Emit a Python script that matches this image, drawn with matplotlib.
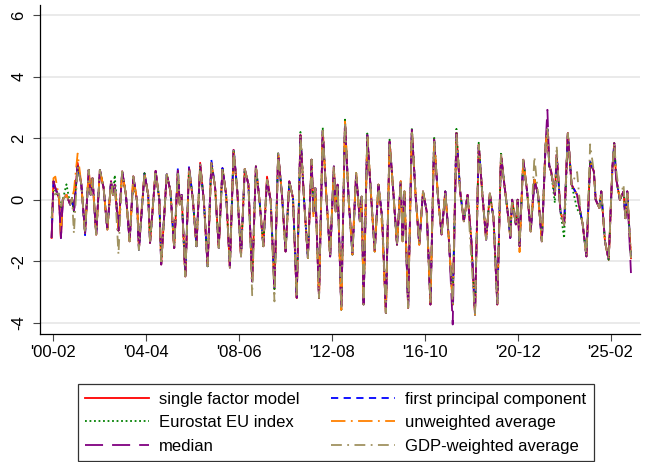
import matplotlib.pyplot as plt

plt.rcParams['font.family'] = ['Liberation Sans', 'DejaVu Sans']

# months since 2000-01 (vertices) and the common path of all series
months = [0, 1, 2, 4, 5, 6, 8, 10, 11, 12, 14, 16, 18, 20, 21, 22, 24, 26, 28,
          30, 32, 33, 34, 36, 38, 40, 42, 44, 46, 47, 50, 52, 53, 56, 58, 59, 62, 64, 66,
          68, 69, 70, 72, 74, 76, 78, 80, 82, 84, 86, 88, 90, 92, 94, 96, 98, 100, 102,
          104, 106, 108, 110, 112, 114, 116, 118, 120, 122, 124, 126, 128, 130, 132, 134, 136, 138, 140,
          141, 142, 144, 146, 148, 150, 152, 153, 154, 156, 158, 160, 162, 164, 166, 167, 168, 170, 172, 174,
          176, 178, 180, 182, 184, 186, 188, 189, 190, 192, 194, 196, 198, 200, 202, 204, 206, 208, 210, 212,
          214, 216, 218, 220, 222, 224, 226, 228, 230, 232, 234, 236, 238, 240, 242, 244, 246, 247, 248, 250,
          251, 252, 254, 256, 258, 260, 262, 264, 266, 267, 268, 269, 271, 272, 273, 274, 276, 278, 279,
          280, 283, 285, 286, 288, 290, 292, 293, 295, 296, 298, 300, 302, 303, 304, 306, 308, 309, 310, 312]
common = [-1.24, 0.6, 0.38, 0.05, -1.24, 0.0, 0.16, -0.16, 0.05, -0.38, 1.08, 0.5, -1.08, 0.97, 0.16, 0.7, -1.13, 0.97, 0.38,
          -0.97, 0.6, 0.16, 0.49, -1.0, 0.92, 0.16, -1.35, 0.76, -0.05, -1.62, 0.86, 0.16, -1.4, 0.94, 0.0, -2.1, 0.83, 0.27, -1.57,
          0.94, -0.16, 0.16, -2.49, 1.03, 0.05, -1.51, 1.14, -0.05, -2.16, 1.19, 0.43, -1.57, 1.03, 0.16, -2.2, 1.62, 0.27, -1.84,
          1.0, 0.49, -2.65, 1.08, -0.05, -1.51, 0.65, -0.05, -2.9, 1.5, 0.2, -1.68, 0.6, 0.05, -3.19, 2.1, -0.05, -1.89, 1.3,
          -0.38, 0.38, -3.19, 2.24, 0.05, -1.84, 1.08, -0.38, 0.49, -3.57, 2.54, -0.05, -1.78, 0.86, -0.7, 0.1, -3.4, 2.1, 0.16, -1.68,
          0.49, -0.6, -3.68, 1.89, 0.27, -1.46, 0.6, -1.35, 0.27, -3.51, 2.27, 0.16, -1.46, 0.27, -0.38, -3.4, 1.95, 0.16, -1.13, 0.27,
          -1.35, -3.4, 2.16, 0.27, -0.7, 0.16, -1.3, -3.73, 1.78, 0.16, -1.3, 0.2, -0.6, -3.4, 1.46, 0.4, -0.6, -1.24, 0.0, -0.8,
          0.0, -1.51, 1.3, 0.3, -1.03, 0.65, 0.16, -1.35, 1.78, 2.3, 1.1, 0.92, 0.16, 1.46, 0.6, -0.38, -0.81, 2.16, 1.35,
          0.49, 0.16, -0.49, -0.8, -1.84, 1.24, 0.92, 0.0, -0.27, 0.27, -1.35, -1.95, 1.03, 1.84, 0.7, 0.0, 0.27, -0.6, 0.27, -1.9]

# where a series visibly departs from the common path: {month: value}
single_factor = {14: 1.2, 80: 1.2, 116: 0.75, 162: -1.6}
first_pc = {18: -1.15, 68: 1.05, 74: 1.1, 86: 1.3, 98: 1.7, 146: 2.2}
eurostat = {0: -0.6, 1: 0.3, 2: 0.25, 5: -0.3, 8: 0.5, 34: 0.8, 38: 0.9, 44: 0.6, 134: 2.2, 146: 2.35,
            158: 2.6, 170: 2.15, 182: 1.95, 194: 2.35, 206: 2.05, 218: 2.3, 230: 1.85, 242: 1.55,
            271: -0.1, 276: -1.25, 283: -0.3}
unweighted = {1: 0.7, 2: 0.75, 12: 0.3, 14: 1.5, 47: -1.4, 141: -0.6, 178: -0.9, 252: -1.7}
median = {216: -4.05, 267: 2.92, 312: -2.38}
gdp_weighted = {0: -0.6, 1: 0.1, 2: 0.2, 4: 0.2, 5: -0.3, 12: -1.1, 36: -1.78, 108: -3.1, 120: -3.3,
                226: -1.9, 260: 1.4, 272: 1.75, 283: 0.9, 290: 1.8, 304: 1.0, 308: 0.5}

tick_pos = [1, 51, 101, 151, 201, 251, 301]
tick_labels = ["'00-02", "'04-04", "'08-06", "'12-08", "'16-10", "'20-12", "'25-02"]


def build(overrides):
    vals = list(common)
    for m, v in overrides.items():
        vals[months.index(m)] = v
    return vals


fig = plt.figure(figsize=(6.47, 4.62), dpi=100)
ax = fig.add_axes([0.062, 0.277, 0.927, 0.712])

styles = [
    ('single factor model', single_factor, '#ff0000', '-'),
    ('first principal component', first_pc, '#0000ff', (0, (4, 3))),
    ('Eurostat EU index', eurostat, '#008000', (0, (1, 1.5))),
    ('unweighted average', unweighted, '#ff8000', (0, (8, 3, 1, 3))),
    ('median', median, '#800080', (0, (10, 5))),
    ('GDP-weighted average', gdp_weighted, '#a09260', (0, (6, 3, 1, 3))),
]
handles = {}
for label, ov, color, ls in styles:
    h, = ax.plot(months, build(ov), color=color, linestyle=ls, lw=1.3, label=label)
    handles[label] = h

ax.set_xlim(-6.2, 316.8)
ax.set_ylim(-4.36, 6.32)
ax.set_yticks([-4, -2, 0, 2, 4, 6])
ax.set_yticklabels(['-4', '-2', '0', '2', '4', '6'], rotation=90, va='center')
ax.set_xticks(tick_pos)
ax.set_xticklabels(tick_labels)
ax.tick_params(labelsize=12, length=5, width=0.8, color='#444444')
ax.tick_params(axis='y', pad=5)
ax.tick_params(axis='x', pad=3)
ax.grid(axis='y', color='#eaeaea', lw=1.4)
ax.set_axisbelow(True)
for s in ['top', 'right']:
    ax.spines[s].set_visible(False)
for s in ['left', 'bottom']:
    ax.spines[s].set_linewidth(0.9)

order = ['single factor model', 'Eurostat EU index', 'median',
         'first principal component', 'unweighted average', 'GDP-weighted average']
leg = fig.legend([handles[k] for k in order], order, ncol=2, loc='upper left',
                 bbox_to_anchor=(0.1205, 0.168), borderaxespad=0, fontsize=12,
                 frameon=True, fancybox=False, edgecolor='black', handlelength=3.8,
                 handletextpad=0.62, columnspacing=1.9, labelspacing=0.5, borderpad=0.45)
leg.get_frame().set_linewidth(0.9)

fig.savefig('out.png', dpi=100)
